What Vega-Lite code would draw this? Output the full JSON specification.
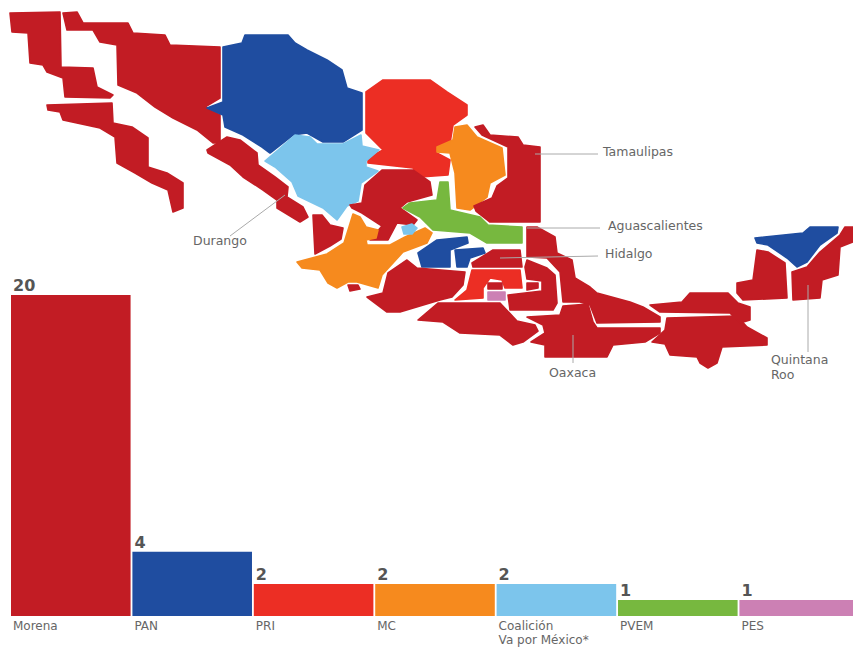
{
"$schema":"https://vega.github.io/schema/vega-lite/v6.json",
"width":853,"height":657,"autosize":"none","padding":0,"background":"white",
"config":{"view":{"stroke":null}},
"datasets":{
"parties":[
{"party":"Morena","label":"Morena","value":20},
{"party":"PAN","label":"PAN","value":4},
{"party":"PRI","label":"PRI","value":2},
{"party":"MC","label":"MC","value":2},
{"party":"Coalición","label":"Coalición\nVa por México*","value":2},
{"party":"PVEM","label":"PVEM","value":1},
{"party":"PES","label":"PES","value":1}],
"states":[
{"type":"Feature","properties":{"party":"Morena","state":"Baja California"},"geometry":{"type":"Polygon","coordinates":[[[10,13],[60,12],[61,67],[93,68],[97,87],[113,95],[110,98],[65,97],[63,78],[47,72],[43,65],[30,63],[28,33],[12,32],[10,13]]]}},
{"type":"Feature","properties":{"party":"Morena","state":"Baja California Sur"},"geometry":{"type":"Polygon","coordinates":[[[47,105],[112,103],[113,123],[132,127],[148,138],[148,167],[167,173],[183,183],[183,208],[173,212],[168,190],[152,183],[135,173],[117,163],[115,137],[100,128],[63,120],[60,112],[48,110],[47,105]]]}},
{"type":"Feature","properties":{"party":"Morena","state":"Sonora"},"geometry":{"type":"Polygon","coordinates":[[[63,13],[77,12],[83,23],[128,23],[133,33],[165,35],[170,45],[220,47],[220,98],[205,107],[220,115],[220,143],[213,143],[197,130],[173,118],[155,107],[137,93],[118,85],[117,45],[100,42],[93,30],[67,30],[63,13]]]}},
{"type":"Feature","properties":{"party":"PAN","state":"Chihuahua"},"geometry":{"type":"Polygon","coordinates":[[[223,47],[242,43],[245,35],[288,35],[295,43],[307,50],[327,60],[342,70],[347,88],[362,93],[362,130],[343,142],[323,142],[307,133],[293,135],[270,153],[262,147],[243,135],[225,127],[223,115],[207,108],[223,102],[223,47]]]}},
{"type":"Feature","properties":{"party":"PRI","state":"Coahuila"},"geometry":{"type":"Polygon","coordinates":[[[366,92],[383,80],[430,80],[447,92],[467,105],[467,115],[453,125],[450,143],[435,152],[450,160],[448,175],[420,177],[413,168],[368,163],[368,158],[383,150],[366,133],[366,92]]]}},
{"type":"Feature","properties":{"party":"Coalición","state":"Durango"},"geometry":{"type":"Polygon","coordinates":[[[265,161],[278,150],[295,135],[310,137],[317,144],[343,144],[361,135],[362,146],[379,150],[366,161],[366,167],[378,171],[361,183],[358,201],[347,206],[337,220],[323,208],[298,196],[292,182],[275,167],[265,161]]]}},
{"type":"Feature","properties":{"party":"Morena","state":"Sinaloa"},"geometry":{"type":"Polygon","coordinates":[[[207,150],[227,137],[240,140],[257,153],[258,165],[275,177],[288,187],[287,197],[303,207],[308,217],[300,222],[277,208],[277,200],[263,190],[243,177],[230,165],[208,153],[207,150]]]}},
{"type":"Feature","properties":{"party":"Morena","state":"Zacatecas"},"geometry":{"type":"Polygon","coordinates":[[[382,170],[413,170],[430,182],[432,195],[407,202],[400,208],[417,220],[413,225],[397,223],[388,240],[370,240],[382,226],[362,213],[352,208],[350,205],[362,203],[365,185],[382,170]]]}},
{"type":"Feature","properties":{"party":"Morena","state":"Nayarit"},"geometry":{"type":"Polygon","coordinates":[[[313,215],[322,215],[330,225],[343,228],[341,239],[330,246],[315,254],[313,215]]]}},
{"type":"Feature","properties":{"party":"MC","state":"Jalisco"},"geometry":{"type":"Polygon","coordinates":[[[297,262],[327,254],[344,243],[349,227],[353,214],[360,217],[366,227],[378,230],[376,238],[366,240],[367,245],[390,245],[405,237],[425,228],[432,233],[427,243],[403,252],[382,275],[378,288],[357,282],[348,282],[337,288],[328,283],[320,270],[302,268],[297,262]]]}},
{"type":"Feature","properties":{"party":"Morena","state":"Colima"},"geometry":{"type":"Polygon","coordinates":[[[348,285],[358,285],[360,289],[350,291],[348,285]]]}},
{"type":"Feature","properties":{"party":"Coalición","state":"Aguascalientes"},"geometry":{"type":"Polygon","coordinates":[[[402,227],[412,224],[417,228],[412,234],[404,234],[402,227]]]}},
{"type":"Feature","properties":{"party":"MC","state":"Nuevo León"},"geometry":{"type":"Polygon","coordinates":[[[455,127],[467,125],[477,137],[502,148],[505,175],[490,183],[487,197],[470,210],[457,208],[455,173],[450,153],[437,152],[437,147],[453,140],[455,127]]]}},
{"type":"Feature","properties":{"party":"Morena","state":"Tamaulipas"},"geometry":{"type":"Polygon","coordinates":[[[475,127],[483,125],[490,135],[518,137],[523,145],[540,147],[540,222],[490,222],[476,211],[474,206],[492,198],[497,186],[508,178],[508,147],[482,135],[475,127]]]}},
{"type":"Feature","properties":{"party":"PVEM","state":"San Luis Potosí"},"geometry":{"type":"Polygon","coordinates":[[[440,182],[448,182],[450,210],[480,217],[488,225],[522,227],[522,243],[487,243],[470,233],[433,230],[420,217],[403,208],[410,203],[437,200],[440,182]]]}},
{"type":"Feature","properties":{"party":"PAN","state":"Guanajuato"},"geometry":{"type":"Polygon","coordinates":[[[418,253],[437,240],[467,237],[468,243],[450,250],[450,267],[422,267],[418,253]]]}},
{"type":"Feature","properties":{"party":"PAN","state":"Querétaro"},"geometry":{"type":"Polygon","coordinates":[[[455,250],[483,248],[485,253],[470,258],[467,267],[457,267],[455,250]]]}},
{"type":"Feature","properties":{"party":"Morena","state":"Hidalgo"},"geometry":{"type":"Polygon","coordinates":[[[472,263],[493,250],[520,250],[522,267],[473,267],[472,263]]]}},
{"type":"Feature","properties":{"party":"Morena","state":"Veracruz"},"geometry":{"type":"Polygon","coordinates":[[[527,227],[537,227],[555,237],[557,253],[572,260],[575,278],[590,287],[597,293],[630,302],[643,307],[660,317],[660,322],[597,323],[590,305],[580,302],[563,302],[560,272],[547,258],[527,257],[527,227]]]}},
{"type":"Feature","properties":{"party":"Morena","state":"Puebla"},"geometry":{"type":"Polygon","coordinates":[[[527,260],[547,268],[555,275],[557,303],[553,310],[510,310],[508,295],[525,293],[542,291],[542,281],[527,279],[525,267],[527,260]]]}},
{"type":"Feature","properties":{"party":"Morena","state":"Tlaxcala"},"geometry":{"type":"Polygon","coordinates":[[[527,283],[538,283],[538,288],[527,290],[527,283]]]}},
{"type":"Feature","properties":{"party":"PRI","state":"Estado de México"},"geometry":{"type":"Polygon","coordinates":[[[472,270],[520,270],[522,288],[505,288],[502,280],[490,278],[483,288],[483,298],[455,300],[467,290],[472,270]]]}},
{"type":"Feature","properties":{"party":"Morena","state":"Ciudad de México"},"geometry":{"type":"Polygon","coordinates":[[[488,283],[502,283],[502,289],[488,289],[488,283]]]}},
{"type":"Feature","properties":{"party":"PES","state":"Morelos"},"geometry":{"type":"Polygon","coordinates":[[[488,292],[505,292],[505,300],[488,300],[488,292]]]}},
{"type":"Feature","properties":{"party":"Morena","state":"Michoacán"},"geometry":{"type":"Polygon","coordinates":[[[367,297],[383,293],[388,273],[407,260],[417,268],[465,272],[463,285],[452,297],[440,300],[400,312],[387,312],[367,297]]]}},
{"type":"Feature","properties":{"party":"Morena","state":"Guerrero"},"geometry":{"type":"Polygon","coordinates":[[[418,320],[438,303],[500,303],[517,321],[535,325],[538,331],[523,342],[513,345],[500,335],[460,333],[443,322],[418,320]]]}},
{"type":"Feature","properties":{"party":"Morena","state":"Oaxaca"},"geometry":{"type":"Polygon","coordinates":[[[527,317],[560,315],[563,306],[588,304],[593,322],[597,328],[660,328],[660,333],[645,342],[613,345],[607,357],[545,357],[545,345],[531,342],[545,333],[543,325],[527,317]]]}},
{"type":"Feature","properties":{"party":"Morena","state":"Chiapas"},"geometry":{"type":"Polygon","coordinates":[[[667,318],[737,316],[747,327],[767,338],[767,345],[722,347],[717,363],[708,368],[700,363],[697,357],[670,355],[665,344],[652,342],[665,330],[667,318]]]}},
{"type":"Feature","properties":{"party":"Morena","state":"Tabasco"},"geometry":{"type":"Polygon","coordinates":[[[650,305],[682,302],[690,293],[728,293],[738,303],[750,307],[750,320],[740,323],[730,313],[660,312],[650,305]]]}},
{"type":"Feature","properties":{"party":"Morena","state":"Campeche"},"geometry":{"type":"Polygon","coordinates":[[[737,283],[753,280],[757,250],[768,252],[785,263],[787,298],[743,300],[737,293],[737,283]]]}},
{"type":"Feature","properties":{"party":"PAN","state":"Yucatán"},"geometry":{"type":"Polygon","coordinates":[[[755,238],[803,233],[810,227],[838,227],[837,233],[820,245],[807,262],[797,267],[787,258],[768,245],[757,243],[755,238]]]}},
{"type":"Feature","properties":{"party":"Morena","state":"Quintana Roo"},"geometry":{"type":"Polygon","coordinates":[[[792,272],[807,267],[820,252],[840,235],[845,227],[853,227],[853,242],[840,247],[838,275],[822,280],[820,298],[793,300],[792,272]]]}}
],
"leaders":[
{"type":"Feature","properties":{"name":"Tamaulipas"},"geometry":{"type":"LineString","coordinates":[[535,154],[598,154]]}},
{"type":"Feature","properties":{"name":"Aguascalientes"},"geometry":{"type":"LineString","coordinates":[[527,228],[600,228]]}},
{"type":"Feature","properties":{"name":"Hidalgo"},"geometry":{"type":"LineString","coordinates":[[500,258],[598,256]]}},
{"type":"Feature","properties":{"name":"Durango"},"geometry":{"type":"LineString","coordinates":[[285,195],[230,236]]}},
{"type":"Feature","properties":{"name":"Oaxaca"},"geometry":{"type":"LineString","coordinates":[[573,335],[573,363]]}},
{"type":"Feature","properties":{"name":"Quintana Roo"},"geometry":{"type":"LineString","coordinates":[[808,285],[808,352]]}}
],
"labels":[
{"name":"Tamaulipas","lon":603,"lat":152},
{"name":"Aguascalientes","lon":608,"lat":226},
{"name":"Hidalgo","lon":605,"lat":254},
{"name":"Durango","lon":193,"lat":241},
{"name":"Oaxaca","lon":549,"lat":373},
{"name":"Quintana\nRoo","lon":771,"lat":360}
]},
"layer":[
{"data":{"name":"parties"},"mark":{"type":"bar"},
 "encoding":{
  "x":{"field":"party","type":"nominal","sort":null,"axis":null,"scale":{"domain":["Morena","PAN","PRI","MC","Coalición","PVEM","PES"],"range":[11,859],"paddingInner":0.015,"paddingOuter":0}},
  "y":{"field":"value","type":"quantitative","axis":null,"scale":{"domain":[0,20],"range":[616,295]}},
  "color":{"field":"party","type":"nominal","legend":null,"scale":{"domain":["Morena","PAN","PRI","MC","Coalición","PVEM","PES"],"range":["#c21c24","#1f4da0","#ec2e24","#f68a1e","#7cc5ec","#77b83f","#cc80b4"]}}}},
{"data":{"name":"parties"},"mark":{"type":"text","align":"left","baseline":"bottom","dy":-1,"dx":2,"font":"DejaVu Sans","fontSize":16,"fontWeight":"bold","color":"#555555"},
 "encoding":{"x":{"field":"party","type":"nominal","sort":null,"bandPosition":0},"y":{"field":"value","type":"quantitative"},"text":{"field":"value","type":"quantitative"}}},
{"data":{"name":"parties"},"mark":{"type":"text","align":"left","baseline":"top","dy":5,"dx":2,"font":"DejaVu Sans","fontSize":12,"lineHeight":14,"lineBreak":"\n","color":"#666666"},
 "encoding":{"x":{"field":"party","type":"nominal","sort":null,"bandPosition":0},"y":{"datum":0,"type":"quantitative"},"text":{"field":"label"}}},
{"data":{"name":"states","format":{"type":"json"}},"mark":{"type":"geoshape","strokeWidth":1.6,"strokeJoin":"round"},
 "projection":{"type":"identity","scale":1,"translate":[0,0]},
 "encoding":{"color":{"field":"properties.party","type":"nominal","legend":null},"stroke":{"field":"properties.party","type":"nominal","legend":null,"scale":{"domain":["Morena","PAN","PRI","MC","Coalición","PVEM","PES"],"range":["#c21c24","#1f4da0","#ec2e24","#f68a1e","#7cc5ec","#77b83f","#cc80b4"]}}}},
{"data":{"name":"leaders","format":{"type":"json"}},"mark":{"type":"geoshape","filled":false,"stroke":"#aaaaaa","strokeWidth":1},
 "projection":{"type":"identity","scale":1,"translate":[0,0]}},
{"data":{"name":"labels"},"mark":{"type":"text","align":"left","baseline":"middle","font":"DejaVu Sans","fontSize":12.5,"lineHeight":15,"lineBreak":"\n","color":"#666666"},
 "projection":{"type":"identity","scale":1,"translate":[0,0]},
 "encoding":{"longitude":{"field":"lon","type":"quantitative"},"latitude":{"field":"lat","type":"quantitative"},"text":{"field":"name"}}}
]
}
